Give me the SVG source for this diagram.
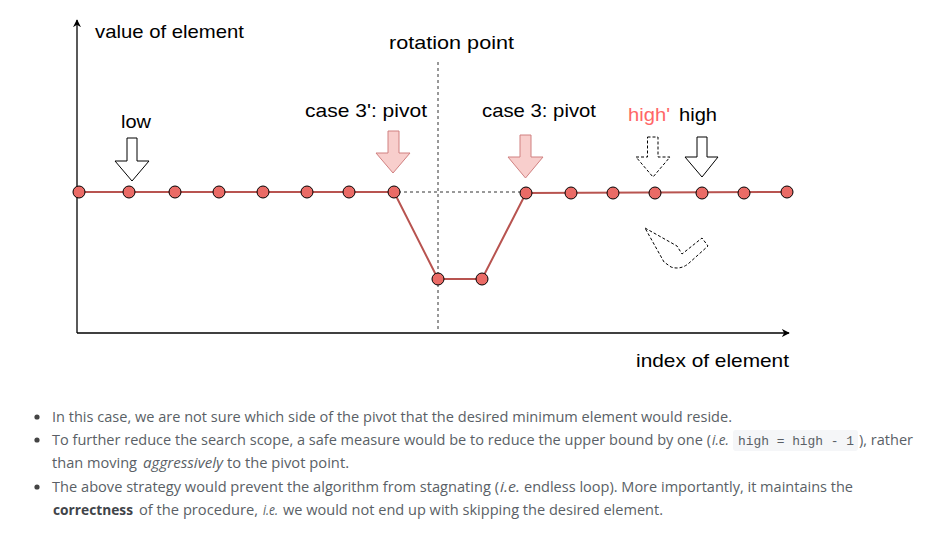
<svg xmlns="http://www.w3.org/2000/svg" width="937" height="537" viewBox="0 0 937 537">
<style>
.lbl{font-family:"Comic Sans MS","Liberation Sans",sans-serif;font-size:19px;fill:#000}
.body{font-family:"Open Sans","Noto Sans",sans-serif;font-size:14px;fill:#5a5f66}
.it{font-style:italic}
.b{font-weight:bold;fill:#3f4449}
.code{font-family:"Liberation Mono","DejaVu Sans Mono",monospace;font-size:13px;fill:#5a5f66}
.dash{stroke:#333;stroke-width:1;stroke-dasharray:3 3;fill:none}
.dot{fill:#ea6b66;stroke:#000;stroke-width:1}
.blk{fill:#fff;stroke:#000;stroke-width:1}
.piv{fill:#f8cecc;stroke:#d08080;stroke-width:1}
.ghost{fill:#fff;stroke:#000;stroke-width:1;stroke-dasharray:3 2}
</style>
<defs>
<marker id="ah" viewBox="0 0 10 10" refX="9" refY="5" markerWidth="8" markerHeight="8" markerUnits="userSpaceOnUse" orient="auto">
<path d="M0,0 L10,5 L0,10 L3,5 Z" fill="#000"/>
</marker>
</defs>
<rect width="937" height="537" fill="#fff"/>
<g id="connectors">
<line x1="77" y1="333" x2="77" y2="20" stroke="#000" stroke-width="1.3" marker-end="url(#ah)"/>
<line x1="77" y1="333" x2="789" y2="333" stroke="#000" stroke-width="1.3" marker-end="url(#ah)"/>
<line class="dash" x1="438" y1="62" x2="438" y2="332"/>
<line class="dash" x1="398" y1="192" x2="522" y2="192"/>
<polyline points="79,192 394,192 438,279 482,279 526,193 787,192" fill="none" stroke="#b85450" stroke-width="2"/>
</g>
<g id="points">
<circle class="dot" cx="79" cy="192" r="6"/>
<circle class="dot" cx="129" cy="192" r="6"/>
<circle class="dot" cx="175" cy="192" r="6"/>
<circle class="dot" cx="219" cy="192" r="6"/>
<circle class="dot" cx="263" cy="192" r="6"/>
<circle class="dot" cx="307" cy="192" r="6"/>
<circle class="dot" cx="349" cy="192" r="6"/>
<circle class="dot" cx="394" cy="192" r="6"/>
<circle class="dot" cx="438" cy="279" r="6"/>
<circle class="dot" cx="482" cy="279" r="6"/>
<circle class="dot" cx="526" cy="193" r="6"/>
<circle class="dot" cx="571" cy="193" r="6"/>
<circle class="dot" cx="613" cy="193" r="6"/>
<circle class="dot" cx="655" cy="193" r="6"/>
<circle class="dot" cx="702" cy="193" r="6"/>
<circle class="dot" cx="744" cy="193" r="6"/>
<circle class="dot" cx="787" cy="192" r="6"/>
</g>
<g id="arrow-low"><path class="blk" d="M127,138 L137,138 L137,161 L149,161 L132,181 L115,161 L127,161 Z"/></g>
<g id="arrow-pivot3p"><path class="piv" d="M388,131 L399,131 L399,153 L410,153 L393,173 L376,153 L388,153 Z"/></g>
<g id="arrow-pivot3"><path class="piv" d="M520,135 L531,135 L531,157 L543,157 L525.5,178 L508,157 L520,157 Z"/></g>
<g id="arrow-highp"><path class="ghost" d="M647.5,137 L658,137 L658,157 L670,157 L653,177 L636,157 L647.5,157 Z"/></g>
<g id="arrow-high"><path class="blk" d="M697,137 L707,137 L707,157 L718,157 L702,177 L685,157 L697,157 Z"/></g>
<g id="curved-arrow"><path class="ghost" d="M645,228 L677,246 L682,254 L702,238 L708,246 L688,264 Q680,270 671,267 L664,262 Z"/></g>
<g id="labels">
<text class="lbl" x="95" y="38" textLength="149" lengthAdjust="spacingAndGlyphs">value of element</text>
<text class="lbl" x="389" y="49" textLength="125" lengthAdjust="spacingAndGlyphs">rotation point</text>
<text class="lbl" x="121" y="128" textLength="30" lengthAdjust="spacingAndGlyphs">low</text>
<text class="lbl" x="305" y="117" textLength="122" lengthAdjust="spacingAndGlyphs">case 3': pivot</text>
<text class="lbl" x="482" y="117" textLength="114" lengthAdjust="spacingAndGlyphs">case 3: pivot</text>
<text class="lbl" x="628" y="121" textLength="42" lengthAdjust="spacingAndGlyphs" style="fill:#ff6666">high'</text>
<text class="lbl" x="679" y="121" textLength="38" lengthAdjust="spacingAndGlyphs">high</text>
<text class="lbl" x="636" y="367" textLength="153" lengthAdjust="spacingAndGlyphs">index of element</text>
</g>
<g id="notes">
<circle cx="37" cy="417" r="2.6" fill="#444"/>
<circle cx="37" cy="440" r="2.6" fill="#444"/>
<circle cx="37" cy="487" r="2.6" fill="#444"/>
<text class="body" x="52" y="422" textLength="680" lengthAdjust="spacingAndGlyphs">In this case, we are not sure which side of the pivot that the desired minimum element would reside.</text>
<text class="body" x="52" y="445" textLength="659" lengthAdjust="spacingAndGlyphs">To further reduce the search scope, a safe measure would be to reduce the upper bound by one (</text>
<text class="body it" x="712" y="445" textLength="17" lengthAdjust="spacingAndGlyphs">i.e.</text>
<rect x="733" y="430" width="125" height="21" rx="3" fill="#f5f6f8"/>
<text class="code" x="738" y="445" textLength="116" lengthAdjust="spacingAndGlyphs">high = high - 1</text>
<text class="body" x="859" y="445" textLength="54" lengthAdjust="spacingAndGlyphs">), rather</text>
<text class="body" x="52" y="468" textLength="85" lengthAdjust="spacingAndGlyphs">than moving</text>
<text class="body it" x="143" y="468" textLength="80" lengthAdjust="spacingAndGlyphs">aggressively</text>
<text class="body" x="227" y="468" textLength="122" lengthAdjust="spacingAndGlyphs">to the pivot point.</text>
<text class="body" x="52" y="492" textLength="447" lengthAdjust="spacingAndGlyphs">The above strategy would prevent the algorithm from stagnating (</text>
<text class="body it" x="500" y="492" textLength="20" lengthAdjust="spacingAndGlyphs">i.e.</text>
<text class="body" x="524" y="492" textLength="329" lengthAdjust="spacingAndGlyphs">endless loop). More importantly, it maintains the</text>
<text class="body b" x="53" y="515" textLength="80" lengthAdjust="spacingAndGlyphs">correctness</text>
<text class="body" x="139" y="515" textLength="119" lengthAdjust="spacingAndGlyphs">of the procedure,</text>
<text class="body it" x="263" y="515" textLength="15" lengthAdjust="spacingAndGlyphs">i.e.</text>
<text class="body" x="283" y="515" textLength="380" lengthAdjust="spacingAndGlyphs">we would not end up with skipping the desired element.</text>
</g>
</svg>
